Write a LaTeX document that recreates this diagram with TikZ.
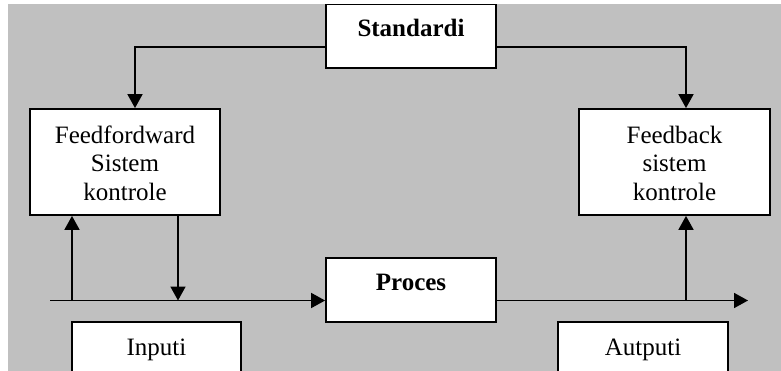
\documentclass[tikz,border=0pt]{standalone}
\usepackage{fontspec}
\setmainfont{Liberation Serif}
\usetikzlibrary{arrows.meta}
\definecolor{bggray}{RGB}{192,192,192}
\tikzset{
  box/.style={draw=black, fill=white, line width=1.8pt, inner sep=0pt},
  txt/.style={font=\fontsize{25}{28.5}\selectfont, align=center, inner sep=0pt},
  btxt/.style={font=\fontsize{25}{28.5}\selectfont\bfseries, inner sep=0pt},
  arr/.style={line width=1.8pt, -{Triangle[width=15pt,length=14pt]}},
  ln/.style={line width=1.8pt}
}
\begin{document}
\begin{tikzpicture}[x=1pt,y=-1pt]
\useasboundingbox (0,0) rectangle (781,371);
\clip (0,0) rectangle (781,371);
\fill[white] (0,0) rectangle (781,371);
\fill[bggray] (8,4) rectangle (781,371);
% boxes
\node[box, minimum width=170pt, minimum height=63.5pt] (std) at (411,36.2) {};
\node[box, minimum width=190pt, minimum height=106pt] (ff) at (125,162) {};
\node[box, minimum width=191pt, minimum height=106pt] (fb) at (674.5,162) {};
\node[box, minimum width=170pt, minimum height=64pt] (proc) at (411,290) {};
\node[box, minimum width=169pt, minimum height=80pt] (inp) at (156.5,362) {};
\node[box, minimum width=170pt, minimum height=80pt] (out) at (643,362) {};
% texts
\node[btxt, anchor=base] (stdt) at (411,37) {Standardi};
\node[btxt, anchor=base] (proct) at (411,290) {Proces};
\node[txt, anchor=base] (inpt) at (156.5,355) {Inputi};
\node[txt, anchor=base] (outt) at (643,355) {Autputi};
\node[txt] (fft) at (125,163) {Feedfordward\\Sistem\\kontrole};
\node[txt] (fbt) at (674.5,163) {Feedback\\sistem\\kontrole};
% connectors
\draw[arr] ([yshift=-11pt]std.west) -| ([xshift=10pt]ff.north);
\draw[arr] ([yshift=-11pt]std.east) -| ([xshift=11.5pt]fb.north);
\coordinate (start) at (50,300.5);
\coordinate (j1) at (72,300.5);
\coordinate (j2) at (178,300.5);
\coordinate (j3) at (686,300.5);
\coordinate (fin) at (748,300.5);
\draw[arr] (start) -- (proc.west |- start);
\draw[arr] (proc.east |- start) -- (fin);
\draw[arr] (j1) -- (j1 |- ff.south);
\draw[arr] (j2 |- ff.south) -- (j2);
\draw[arr] (j3) -- (j3 |- fb.south);
\end{tikzpicture}
\end{document}
